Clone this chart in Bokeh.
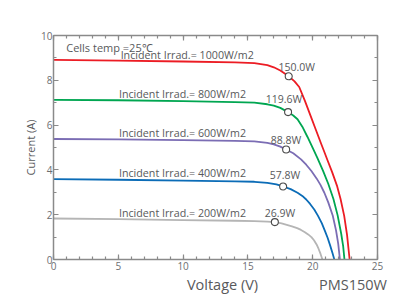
from bokeh.plotting import figure
from bokeh.models import (Range1d, LinearAxis, Label, SingleIntervalTicker,
                          CustomJSTickFormatter, FixedTicker)
from bokeh.embed import file_html
from bokeh.resources import INLINE

# ---- data ----
series_names = ["1000W/m2", "800W/m2", "600W/m2", "400W/m2", "200W/m2"]
series_colors = ["#ec1c24", "#00a651", "#7b6db4", "#0b6cb7", "#b5b5b5"]

v_1000 = [0, 5, 10, 14, 15.5, 16.5, 17.0, 17.5, 18.15, 18.6, 18.96, 19.4, 19.86, 20.25, 20.63,
          20.9, 21.15, 21.5, 21.87, 22.15, 22.43, 22.65, 22.85]
i_1000 = [8.91, 8.88, 8.84, 8.8, 8.77, 8.68, 8.58, 8.44, 8.18, 7.95, 7.7, 7.08, 6.38, 5.78, 5.2,
          4.8, 4.42, 3.9, 3.3, 2.7, 1.95, 1.1, 0.0]

v_800 = [0, 5, 10, 14, 15.5, 16.5, 17.0, 17.5, 18.1, 18.5, 18.83, 19.2, 19.6, 20.0, 20.35, 20.8,
         21.2, 21.6, 21.92, 22.2, 22.35, 22.45]
i_800 = [7.13, 7.11, 7.07, 7.03, 7.0, 6.93, 6.87, 6.77, 6.58, 6.43, 6.26, 5.93, 5.47, 4.98, 4.55, 3.96,
         3.38, 2.7, 1.98, 1.15, 0.6, 0.0]

v_600 = [0, 5, 10, 14, 15.5, 16.5, 17.0, 17.5, 17.95, 18.5, 19.1, 19.5, 19.9, 20.3, 20.6, 20.9,
         21.2, 21.55, 21.8, 21.97, 22.1]
i_600 = [5.38, 5.36, 5.33, 5.3, 5.27, 5.21, 5.14, 5.04, 4.91, 4.74, 4.47, 4.23, 3.95, 3.62, 3.33, 2.98,
         2.55, 1.95, 1.3, 0.7, 0.0]

v_400 = [0, 5, 10, 14, 15.5, 16.5, 17.2, 17.72, 18.3, 18.83, 19.2, 19.5, 19.8, 20.12, 20.4, 20.7,
         20.95, 21.15, 21.35, 21.52, 21.67]
i_400 = [3.59, 3.56, 3.52, 3.49, 3.47, 3.42, 3.35, 3.26, 3.14, 2.98, 2.84, 2.68, 2.48, 2.23, 1.96, 1.62,
         1.27, 0.97, 0.62, 0.3, 0.0]

v_200 = [0, 5, 10, 14, 15.5, 16.5, 17.08, 17.6, 18.0, 18.4, 18.8, 19.1, 19.4, 19.65, 19.9, 20.1,
         20.3, 20.45, 20.6, 20.75]
i_200 = [1.83, 1.8, 1.76, 1.73, 1.71, 1.69, 1.67, 1.61, 1.55, 1.48, 1.4, 1.32, 1.22, 1.12, 1.0, 0.86,
         0.67, 0.48, 0.26, 0.0]

mpp_v = [18.15, 18.1, 17.95, 17.72, 17.08]
mpp_i = [8.18, 6.58, 4.91, 3.26, 1.67]
mpp_labels = ["150.0W", "119.6W", "88.8W", "57.8W", "26.9W"]

x_ticks_interval = 5
y_ticks_interval = 2

# texts under the x axis, placed on the voltage scale
bottom_texts = ["Voltage (V)", "PMS150W"]
bottom_text_at = [13.04, 23.11]

curves_v = [v_1000, v_800, v_600, v_400, v_200]
curves_i = [i_1000, i_800, i_600, i_400, i_200]

FONT = "Open Sans"
AXC = "#8a8a8a"
TXT = "#58595b"
TICKTXT = "#6d6e71"

p = figure(frame_width=324, frame_height=224, x_range=Range1d(0, 25), y_range=Range1d(0, 10),
           output_backend="svg", toolbar_location=None,
           min_border_left=53, min_border_right=17, min_border_top=35, min_border_bottom=20)
p.outline_line_color = None
p.xgrid.visible = False
p.ygrid.visible = False
p.background_fill_color = "white"
p.border_fill_color = "white"


def style(ax, labels=True):
    ax.axis_line_color = AXC
    ax.axis_line_width = 1.5
    ax.major_tick_in = 5
    ax.major_tick_out = 0
    ax.minor_tick_in = 3
    ax.minor_tick_out = 0
    ax.major_tick_line_color = AXC
    ax.minor_tick_line_color = AXC
    ax.major_tick_line_width = 1.2
    ax.minor_tick_line_width = 1.2
    ax.major_label_text_font = FONT
    ax.major_label_text_font_size = "10px"
    ax.major_label_text_color = TICKTXT
    ax.major_label_standoff = 2
    if not labels:
        ax.formatter = CustomJSTickFormatter(code="return ''")


p.xaxis.ticker = SingleIntervalTicker(interval=x_ticks_interval, num_minor_ticks=5)
p.yaxis.ticker = SingleIntervalTicker(interval=y_ticks_interval, num_minor_ticks=2)
style(p.xaxis[0])
style(p.yaxis[0])
p.yaxis.major_label_standoff = 1
p.yaxis.axis_label = "Current (A)"
p.yaxis.axis_label_text_font = FONT
p.yaxis.axis_label_text_font_size = "11px"
p.yaxis.axis_label_text_font_style = "normal"
p.yaxis.axis_label_text_color = TXT
p.yaxis.axis_label_standoff = 0

top = LinearAxis(ticker=SingleIntervalTicker(interval=x_ticks_interval, num_minor_ticks=5))
style(top, labels=False)
p.add_layout(top, "above")
right = LinearAxis(ticker=SingleIntervalTicker(interval=y_ticks_interval, num_minor_ticks=2))
style(right, labels=False)
p.add_layout(right, "right")

# second, line-less axis below carrying the axis title and the model name
titles = LinearAxis(ticker=FixedTicker(ticks=bottom_text_at, minor_ticks=[]),
                    major_label_overrides={t: s for t, s in zip(bottom_text_at, bottom_texts)})
titles.axis_line_color = None
titles.major_tick_line_color = None
titles.minor_tick_line_color = None
titles.major_tick_in = 0
titles.major_tick_out = 0
titles.major_label_standoff = 2
titles.major_label_text_font = FONT
titles.major_label_text_font_size = "14.5px"
titles.major_label_text_color = TXT
p.add_layout(titles, "below")

for vs, cs, col in zip(curves_v, curves_i, series_colors):
    p.line(vs, cs, line_color=col, line_width=1.8, line_join="round")

p.scatter(mpp_v, mpp_i, marker="circle", size=7, fill_color="white",
          line_color="#4a4a4a", line_width=1.1)

# irradiance labels
irr_x = [5.18, 5.05, 5.05, 5.05, 5.05]
irr_y = [9.14, 7.38, 5.63, 3.84, 2.07]
for nm, x, y in zip(series_names, irr_x, irr_y):
    p.add_layout(Label(x=x, y=y, text="Incident Irrad.= " + nm, text_font=FONT,
                       text_font_size="10.7px", text_color=TXT, text_baseline="alphabetic"))

pw_x = [17.36, 16.38, 16.77, 16.69, 16.3]
pw_y = [8.61, 7.16, 5.34, 3.78, 2.08]
for t, x, y in zip(mpp_labels, pw_x, pw_y):
    p.add_layout(Label(x=x, y=y, text=t, text_font=FONT, text_font_size="10.5px",
                       text_color=TXT, text_baseline="alphabetic"))

p.add_layout(Label(x=0.98, y=9.47, text="Cells temp =25℃", text_font=FONT,
                   text_font_size="11px", text_color=TXT, text_baseline="alphabetic"))

open("out.html", "w").write(file_html(p, INLINE))
